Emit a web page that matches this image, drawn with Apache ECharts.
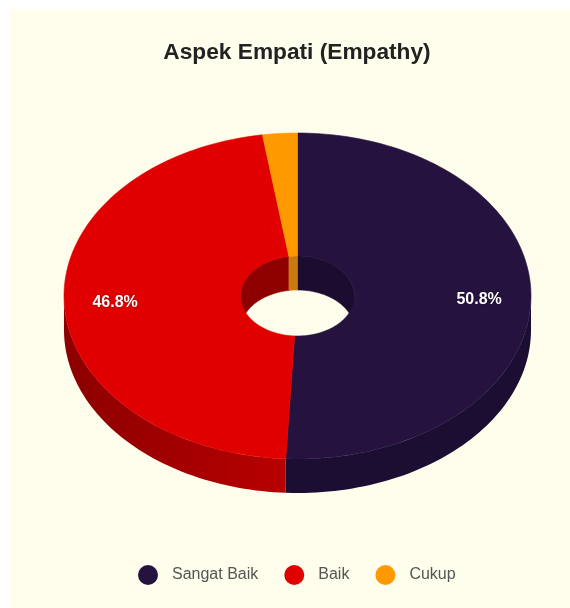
<!DOCTYPE html>
<html>
<head>
<meta charset="utf-8">
<style>html,body{margin:0;padding:0;background:#fff}#chart{width:570px;height:608px}</style>
<script src="https://cdn.jsdelivr.net/npm/echarts@6/dist/echarts.min.js"></script>
</head>
<body>
<div id="chart"></div>
<script>
// Share of respondents per rating
const categories = ['Sangat Baik', 'Baik', 'Cukup'];
const shares = [50.8, 46.8, 2.4];
const faceColors = ['#25123f', '#e00000', '#ff9900'];
const outerWallStops = [['#1c0d33', '#1c0d33'], ['#8c0000', '#b80000'], ['#b86e00', '#b86e00']];
const innerWallColors = ['#1b0c30', '#8e0000', '#c87a10'];
const titleText = 'Aspek Empati (Empathy)';

// Tilted ring geometry
const ring = { cx: 297.5, cy: 296, rx: 233.5, ry: 163, holeRx: 57, holeRy: 40, depth: 34, labelAt: 0.78 };
const total = shares.reduce((a, b) => a + b, 0);
const spans = [];
shares.reduce((acc, v, i) => { spans[i] = [acc / total * 360, (acc + v) / total * 360]; return acc + v; }, 0);

const toRad = d => d * Math.PI / 180;
const pt = (deg, rx, ry, dy) => [ring.cx + rx * Math.sin(toRad(deg)), ring.cy + dy - ry * Math.cos(toRad(deg))];
function arc(from, to, rx, ry, dy) {
  const n = Math.max(2, Math.ceil(Math.abs(to - from) / 1.5));
  const out = [];
  for (let i = 0; i <= n; i++) out.push(pt(from + (to - from) * i / n, rx, ry, dy));
  return out;
}
// Clip a slice's span to a visible angular window
function clip(span, lo, hi) {
  const a = Math.max(span[0], lo), b = Math.min(span[1], hi);
  return b > a ? [a, b] : null;
}
function poly(points, fill, z2) {
  return { type: 'polygon', z2, shape: { points }, style: { fill, stroke: typeof fill === 'string' ? fill : null, lineWidth: 0.6 } };
}

function renderSlice(i) {
  return function () {
    const children = [];
    const span = spans[i];
    // Outer wall: only the front half faces the viewer
    const front = clip(span, 90, 270);
    if (front) {
      const stops = outerWallStops[i];
      const fill = new echarts.graphic.LinearGradient(0, 0, 1, 0, [{ offset: 0, color: stops[0] }, { offset: 1, color: stops[1] }]);
      children.push(poly(arc(front[0], front[1], ring.rx, ring.ry, 0)
        .concat(arc(front[1], front[0], ring.rx, ring.ry, ring.depth)), fill, 1));
    }
    // Hole wall: only the back half shows through the opening
    [clip(span, 0, 90), clip(span, 270, 360)].forEach(back => {
      if (!back) return;
      children.push(poly(arc(back[0], back[1], ring.holeRx, ring.holeRy, 0)
        .concat(arc(back[1], back[0], ring.holeRx, ring.holeRy, ring.depth)), innerWallColors[i], 1));
    });
    // Top face
    children.push(poly(arc(span[0], span[1], ring.rx, ring.ry, 0)
      .concat(arc(span[1], span[0], ring.holeRx, ring.holeRy, 0)), faceColors[i], 2));
    // Percentage label, skipped for very thin slices
    if (shares[i] >= 5) {
      const mid = (span[0] + span[1]) / 2;
      const p = pt(mid, ring.rx * ring.labelAt, ring.ry * ring.labelAt, 0);
      children.push({
        type: 'text', z2: 3,
        style: {
          text: shares[i].toFixed(1) + '%', x: p[0] - 0.5, y: p[1] + 0.5, align: 'center', verticalAlign: 'middle',
          fill: '#fff', font: 'bold 16px "Liberation Sans", Arial, sans-serif',
          textShadowColor: 'rgba(0,0,0,0.45)', textShadowBlur: 2
        }
      });
    }
    return { type: 'group', children };
  };
}

const chart = echarts.init(document.getElementById('chart'), null, { renderer: 'canvas' });
chart.setOption({
  animation: false,
  backgroundColor: '#ffffff',
  graphic: [{ type: 'rect', z: -10, silent: true, shape: { x: 9, y: 9, width: 561, height: 599 }, style: { fill: '#fffeec' } }],
  title: {
    text: titleText, left: 292, top: 36, textAlign: 'center',
    textStyle: { fontFamily: '"Liberation Sans", Arial, sans-serif', fontSize: 22.7, fontWeight: 'bold', color: '#222222' }
  },
  legend: {
    data: categories, left: 133, top: 560, icon: 'circle', itemWidth: 20, itemHeight: 20, itemGap: 26,
    textStyle: { fontFamily: '"Liberation Sans", Arial, sans-serif', fontSize: 16, color: '#555555', padding: [0, 0, 0, 9] }
  },
  series: categories.map((name, i) => ({
    type: 'custom', name, coordinateSystem: 'none', silent: true,
    itemStyle: { color: faceColors[i] },
    data: [shares[i]],
    renderItem: renderSlice(i)
  }))
});
</script>
</body>
</html>
